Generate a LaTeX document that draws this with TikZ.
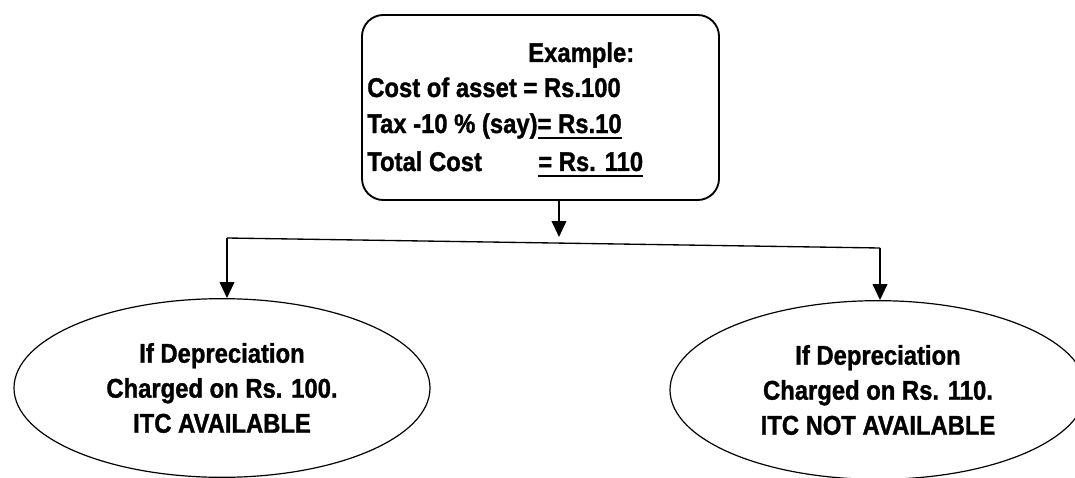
\documentclass[tikz,border=0pt]{standalone}
\usepackage{fontspec}
\setmainfont{Liberation Sans}[FakeStretch=0.88, BoldFeatures={FakeBold=1.2}]
\usetikzlibrary{arrows.meta}
\usetikzlibrary{shapes.geometric}
\newcommand{\thickul}[1]{\setbox0\hbox{#1}\rlap{\rule[-4.5pt]{\wd0}{1.4pt}}\box0}

\begin{document}
\begin{tikzpicture}[x=0.75pt,y=-0.75pt,
		font=\fontsize{20.3}{26.25}\selectfont\bfseries,
		examplebox/.style={draw, line width=1.4pt, rounded corners=16pt, minimum width=267.75pt, minimum height=138.75pt},
		row/.style={anchor=base west, inner sep=0pt},
		outcome/.style={draw, ellipse, line width=0.9pt, align=center, inner sep=0pt, minimum height=134pt},
		arr/.style={line width=1.3pt, -{Triangle[length=12pt,width=11pt]}}]
		\useasboundingbox (0,0) rectangle (1075,478);
		% the example box
		\node[examplebox] (example) at (540.5,107.5) {};
		\node[row] (title) at (528,62) {Example:};
		\node[row] (cost) at (367,97) {Cost of asset = Rs.100};
		\node[row] (tax) at (367,133) {Tax -10 \% (say)\thickul{= Rs.10}};
		\node[row] (total) at (367,171) {Total Cost};
		\node[row] (totalval) at (538,171) {\thickul{= Rs. 110}};
		% the two cases
		\node[outcome, minimum width=312pt] (itc) at (222,388) {If Depreciation\\Charged on Rs. 100.\\ITC AVAILABLE};
		\node[outcome, minimum width=312pt] (noitc) at (878,390) {If Depreciation\\Charged on Rs. 110.\\ITC NOT AVAILABLE};
		% connectors
		\coordinate (leftend) at (227,238);
		\coordinate (rightend) at (880,248);
		\coordinate (split) at (559,241);
		\draw[line width=1pt] (leftend) -- (rightend);
		\draw[arr] (example.south -| split) -- ([yshift=3pt]split);
		\draw[arr] (leftend) -- (leftend |- itc.north);
		\draw[arr] (rightend) -- (rightend |- noitc.north);
\end{tikzpicture}
\end{document}
